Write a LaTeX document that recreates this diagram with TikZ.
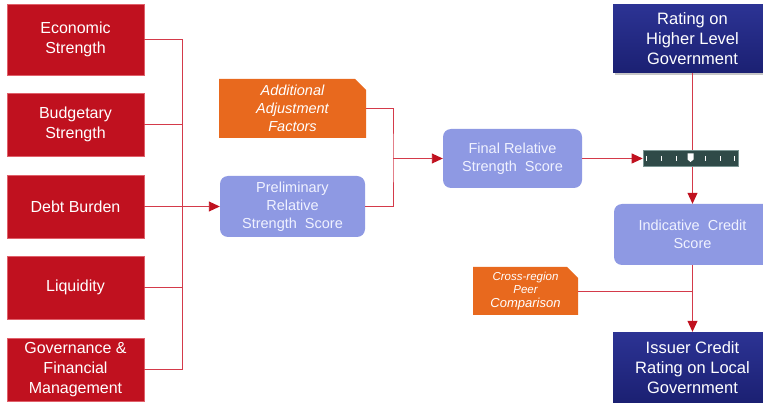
\documentclass[tikz,border=0pt]{standalone}
\usepackage{fontspec}
\setmainfont{Liberation Sans}
\usepackage{xcolor}
\usetikzlibrary{arrows.meta,shadows}
\definecolor{factorred}{HTML}{C0111F}
\definecolor{factoredge}{HTML}{E0606A}
\definecolor{linkred}{HTML}{D43A4A}
\definecolor{scorefill}{HTML}{8E99E3}
\definecolor{scoretext}{HTML}{F0F2FF}
\definecolor{adjorange}{HTML}{E8691E}
\definecolor{ratingtop}{HTML}{2C3394}
\definecolor{ratingbot}{HTML}{1B2072}
\definecolor{gaugefill}{HTML}{2F4A48}
\definecolor{gaugeedge}{HTML}{7A9593}

\begin{document}
\begin{tikzpicture}[x=1pt,y=-1pt,
  factor/.style={fill=factorred,draw=factoredge,line width=0.6pt,text=white,
    minimum width=137pt,minimum height=63pt,inner sep=0pt,align=center,
    font=\fontsize{16}{20}\selectfont},
  score/.style={fill=scorefill,rounded corners=8pt,text=scoretext,inner sep=0pt,
    align=center,font=\fontsize{14.5}{18}\selectfont},
  rating/.style={top color=ratingtop,bottom color=ratingbot,text=white,
    minimum width=159pt,inner sep=0pt,align=center,
    font=\fontsize{16.5}{20}\selectfont,
    drop shadow={shadow xshift=2pt,shadow yshift=-2pt,opacity=0.45}},
  adjust/.style={inner sep=0pt,text=white,align=center,
    path picture={\fill[adjorange] (path picture bounding box.south west)
      -- (path picture bounding box.north west)
      -- ([xshift=-11pt]path picture bounding box.north east)
      -- ([yshift=-11pt]path picture bounding box.north east)
      -- (path picture bounding box.south east) -- cycle;}},
  gauge/.style={fill=gaugefill,draw=gaugeedge,line width=0.6pt,
    minimum width=95pt,minimum height=16pt,inner sep=0pt},
  link/.style={draw=linkred,line width=0.9pt},
  arr/.style={link,-{Triangle[length=11pt,width=10pt,color=factorred]}}]
\clip (0,0) rectangle (763,403);

%factors
\node[factor,minimum height=71pt] (econ) at (75.5,39.5) {Economic\\Strength};
\node[factor] (budget) at (75.5,124.5) {Budgetary\\Strength};
\node[factor] (debt) at (75.5,206.5) {Debt Burden};
\node[factor] (liquid) at (75.5,287.5) {Liquidity};
\node[factor] (govern) at (75.5,369.5) {Governance \&\\Financial\\Management};

%scores
\node[score,minimum width=145pt,minimum height=61pt] (prelim) at (292.5,206.5)
  {Preliminary\\Relative\\Strength~ Score};
\node[adjust,minimum width=147pt,minimum height=59pt,
  font=\fontsize{14.5}{18}\selectfont\itshape] (adjust) at (292.5,108.5)
  {Additional\\Adjustment\\Factors};
\node[score,minimum width=139pt,minimum height=59pt] (final) at (512.5,158.5)
  {Final Relative\\Strength~ Score};
\node[score,minimum width=157pt,minimum height=61pt] (indic) at (692.5,234.5)
  {Indicative~ Credit\\Score};
\node[adjust,minimum width=105pt,minimum height=48pt,
  font=\fontsize{11.5}{13.5}\selectfont\itshape] (peer) at (525.5,291)
  {Cross-region\\Peer\\{\fontsize{13}{14}\selectfont Comparison}};

%ratings
\node[rating,minimum height=68pt] (higher) at (692.5,39) {Rating on\\Higher Level\\Government};
\node[rating,minimum height=71pt] (issuer) at (692.5,367.5) {Issuer Credit\\Rating on Local\\Government};

%bus of factors
\coordinate (bus) at (182,206.5);
\draw[link] (econ.east) -| (bus);
\draw[link] (govern.east) -| (bus);
\draw[link] (budget.east) -- (budget.east -| bus);
\draw[link] (liquid.east) -- (liquid.east -| bus);
\draw[arr] (debt.east) -- (prelim.west);

%adjustment
\coordinate (jn) at (393,158.5);
\draw[link] (adjust.east) -| (jn) |- (prelim.east);
\draw[arr] (jn) -- (final.west);

%rating line
\draw[arr] (higher.south) -- (indic.north);
\draw[arr] (indic.south) -- (issuer.north);
\draw[link] (peer.east) -- (peer.east -| indic.south);

%gauge
\node[gauge] (scale) at (690.5,158.5) {};
\foreach \x in {-44,-29.5,-14.5,14.5,29.5,44}
\draw[white,line width=0.7pt,shift={(scale.center)}] (\x,-2.5) -- (\x,2.5);
\fill[white,shift={(scale.center)}] (-3,-5) -- (3,-5) -- (3,1) -- (0,3.5) -- (-3,1) -- cycle;
\draw[arr] (final.east) -- (scale.west);
\end{tikzpicture}
\end{document}
